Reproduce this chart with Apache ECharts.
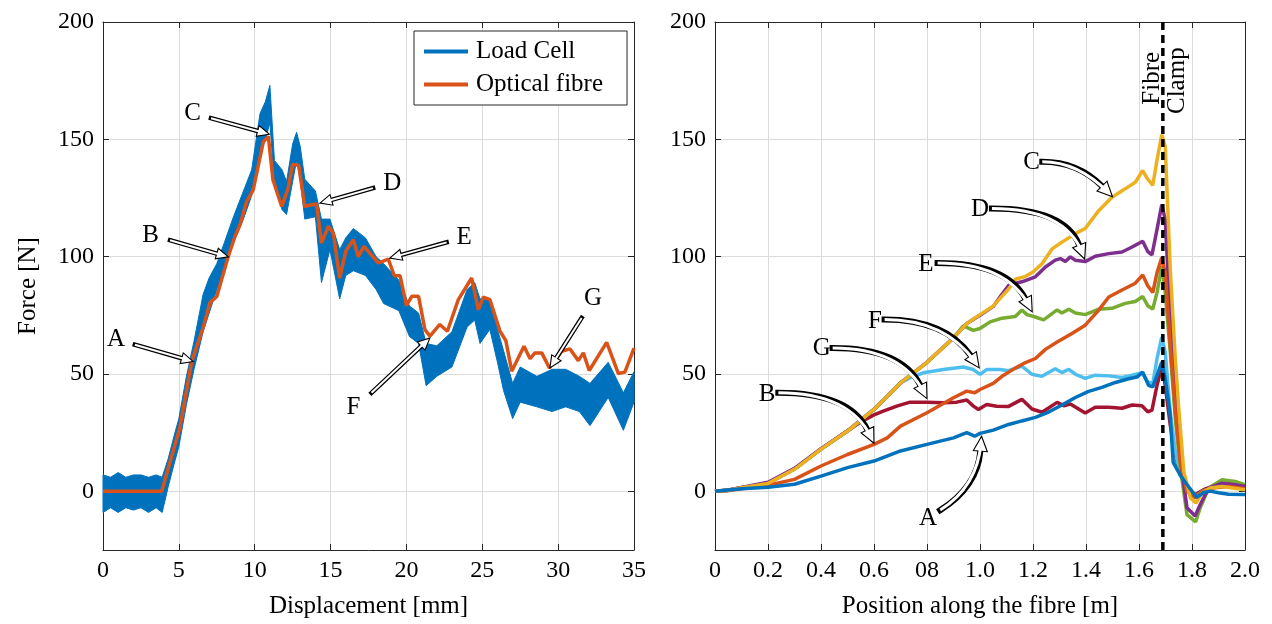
<!DOCTYPE html>
<html><head><meta charset="utf-8">
<script src="https://cdn.jsdelivr.net/npm/echarts@6/dist/echarts.min.js"></script>
<style>html,body{margin:0;padding:0;background:#fff}#c{width:1272px;height:624px}</style>
</head><body><div id="c"></div>
<script>
// ---------- Left panel data ----------
const loadX    = [0,0.5,1,1.5,2,2.5,3,3.5,3.9,4.3,4.7,5.0,5.5,6.0,6.6,7.0,7.5,8.0,8.6,9.2,9.8,10.35,10.7,11.0,11.3,11.8,12.1,12.5,12.76,13.0,13.3,14.0,14.4,14.96,15.6,16.0,16.5,17.3,18.0,18.5,19.5,20.2,20.8,21.3,22.0,23.0,24.0,24.5,24.85,25.5,26.0,26.4,27.0,27.5,28.6,29.6,30.5,31.4,32.1,33.3,34.3,35];
const loadLow  = [-9,-7,-9,-7,-8,-7,-9,-7,-9,2,12,19,37,52,68,76,86,95,106,115,126,144,150,157,131,120,118,132,141,133,116,117,89,103,82,92,94,92,86,80,77,66,63,45,49,53,70,73,63,69,55,43,31,38,36,34,36,34,28,40,26,38];
const loadHigh = [7,6,8,6,7,7,6,7,6,14,24,31,49,64,84,91,97,106,117,127,137,161,166,173,141,137,132,148,153,147,133,128,116,116,103,108,112,108,100,97,90,79,76,63,62,68,86,89,82,82,69,60,46,53,49,52,52,49,46,55,42,51];
const fibreX = [0,3.87,5.07,5.85,6.6,7.05,7.5,8.25,8.7,9.03,9.47,9.9,10.57,10.9,11.2,11.78,12.2,12.5,12.9,13.3,13.65,14.08,14.4,14.85,15.18,15.6,16.0,16.5,16.83,17.2,18.15,18.8,19.2,19.58,20.0,20.35,20.8,21.22,21.55,22.2,22.7,23.42,24.3,24.74,25.07,25.5,26.17,26.55,26.94,27.75,28.15,28.47,28.92,29.42,30.23,30.78,31.33,31.66,32.05,33.2,33.97,34.4,35];
const fibreY = [0,0,27.2,55.4,69.8,80.4,83,100,108.6,113.6,123.5,128.5,149,151.2,132.8,121.4,129,139.4,138.9,121.4,122,122.4,105.8,112.9,110,90.9,102.3,107.2,100,104.4,97.3,99,91.9,91.9,79.1,83.1,83.1,68.9,66.1,71.1,68.2,81.7,90.9,77.4,82.8,81.7,68.2,64.3,51.2,61.8,56.5,59,59,52.6,59.7,60.7,55.7,59,51.5,63.5,50.2,50.8,61];

// ---------- Right panel data ([position, force]) ----------
const curveA = [[0,0],[0.05,0.6],[0.1,1.1],[0.2,1.7],[0.3,3],[0.4,6.5],[0.5,10.1],[0.6,12.9],[0.7,17.2],[0.8,20],[0.9,22.8],[0.95,25],[0.98,23.5],[1.0,24.7],[1.05,26.1],[1.108,28.5],[1.158,30],[1.209,31.5],[1.259,33.8],[1.309,36.8],[1.36,40],[1.41,42.6],[1.46,44.3],[1.511,46.4],[1.561,48],[1.592,48.7],[1.614,50.8],[1.636,45.2],[1.652,44.5],[1.668,49.4],[1.686,55.1],[1.699,48],[1.717,33.5],[1.729,12.3],[1.754,7.2],[1.78,3],[1.818,-2.6],[1.844,-0.5],[1.869,0.1],[1.9,-0.6],[1.938,-1.2],[2.0,-1.3]];
const curveB = [[0,0],[0.05,0.3],[0.1,1.1],[0.2,2.6],[0.3,5.1],[0.4,10.8],[0.5,15.7],[0.6,20],[0.65,22.8],[0.7,27.8],[0.8,33.5],[0.9,39.9],[0.95,42.7],[0.98,42],[1.0,43.4],[1.05,46],[1.083,49],[1.133,52.5],[1.165,54.5],[1.209,56.6],[1.247,60.5],[1.291,63.6],[1.347,67.3],[1.397,70.8],[1.448,77.2],[1.486,82.8],[1.536,85.8],[1.586,88.7],[1.614,92.2],[1.633,87.6],[1.652,84.7],[1.668,93.2],[1.686,99.6],[1.699,93.2],[1.718,62.1],[1.737,33.9],[1.756,12.7],[1.781,0],[1.812,-2.8],[1.838,0],[1.876,1.4],[1.938,2.1],[2.0,1.1]];
const curveC = [[0,0],[0.05,0.5],[0.1,1.5],[0.2,3.4],[0.3,9.4],[0.4,18],[0.5,25.7],[0.6,34.9],[0.7,46.2],[0.8,55],[0.9,65.4],[0.95,71.5],[1.0,75.3],[1.05,79],[1.108,86.2],[1.135,90.5],[1.17,91.5],[1.2,93.5],[1.234,97],[1.272,103.3],[1.309,106.2],[1.36,109.8],[1.397,112],[1.448,119.6],[1.498,125.3],[1.548,128.9],[1.586,131.7],[1.614,136.7],[1.632,133.2],[1.652,130.4],[1.668,141.2],[1.686,152],[1.699,146.9],[1.718,94.6],[1.737,56.5],[1.75,35.3],[1.769,8.5],[1.794,-2.8],[1.815,-5],[1.838,-0.7],[1.869,1.4],[1.913,2.1],[2.0,0.7]];
const curveD = [[0,0],[0.05,0.6],[0.1,1.7],[0.2,3.9],[0.3,9.8],[0.4,18.2],[0.5,25.8],[0.6,34.9],[0.7,46.2],[0.8,55],[0.9,65.4],[0.95,71.5],[1.0,75],[1.05,78.8],[1.08,83.5],[1.11,88],[1.158,89.3],[1.209,91.4],[1.247,95.6],[1.284,98.5],[1.303,99.2],[1.322,97.9],[1.341,99.9],[1.36,98.5],[1.397,97.9],[1.435,100.2],[1.486,101.3],[1.536,102],[1.574,104.1],[1.614,106.6],[1.633,102.2],[1.649,100.8],[1.668,111.6],[1.686,122.2],[1.699,115.8],[1.718,73.4],[1.737,41],[1.756,14.1],[1.781,-7],[1.812,-10.5],[1.831,-5.6],[1.863,1.4],[1.913,3.5],[1.963,2.8],[2.0,2.1]];
const curveE = [[0,0],[0.05,0.5],[0.1,1.5],[0.2,3.5],[0.3,9.5],[0.4,18],[0.5,25.7],[0.6,34.9],[0.7,46.2],[0.8,55],[0.9,65.4],[0.937,70.5],[0.975,68.6],[1.0,69.4],[1.038,72.2],[1.083,73.8],[1.133,74.5],[1.158,77.3],[1.177,75.3],[1.2,74.6],[1.24,73.1],[1.291,77.3],[1.309,76],[1.335,77.6],[1.36,76],[1.397,75.3],[1.448,77.6],[1.498,78],[1.548,80.1],[1.586,80.9],[1.614,83],[1.633,79.1],[1.652,77.7],[1.668,84.7],[1.686,96],[1.699,84.7],[1.718,59.3],[1.737,31],[1.756,9.9],[1.781,-9.9],[1.814,-13],[1.831,-7],[1.863,1.4],[1.913,4.9],[1.963,4.2],[2.0,2.8]];
const curveF = [[0,0],[0.05,0.5],[0.1,1.5],[0.2,3.5],[0.3,9.5],[0.4,18],[0.5,25.7],[0.6,34.9],[0.7,46.2],[0.736,48.4],[0.786,50.5],[0.862,51.9],[0.937,53],[0.975,51.9],[1.0,49.8],[1.025,51.9],[1.075,51.9],[1.108,51.4],[1.158,53.4],[1.196,49.9],[1.234,49],[1.284,52.2],[1.309,50.6],[1.335,52],[1.36,49.9],[1.397,48.1],[1.435,49.5],[1.486,49.2],[1.536,48.5],[1.574,49.5],[1.611,50.6],[1.633,46.6],[1.652,45.9],[1.668,56.5],[1.686,65.7],[1.699,59.3],[1.718,33.9],[1.737,16.9],[1.756,7.1],[1.788,-0.7],[1.813,-2.1],[1.844,0.3],[1.876,1.4],[1.925,2.8],[2.0,1.4]];
const curveG = [[0,0],[0.05,0.5],[0.1,1.5],[0.2,3.5],[0.3,9.5],[0.4,18],[0.5,25.7],[0.55,29.6],[0.6,32.6],[0.635,34.2],[0.686,36.3],[0.736,38],[0.799,38],[0.862,37.7],[0.912,38],[0.95,38.9],[0.975,36.3],[0.994,34.9],[1.025,37],[1.063,36.3],[1.108,36.2],[1.158,39.2],[1.196,35.1],[1.234,33.7],[1.291,37.9],[1.316,36.5],[1.341,37.2],[1.372,35.1],[1.397,33.4],[1.435,35.8],[1.486,35.8],[1.536,35.4],[1.574,36.8],[1.611,36.5],[1.633,33.9],[1.649,34.6],[1.668,45.2],[1.686,53],[1.699,45.2],[1.718,28.2],[1.737,15.5],[1.756,7.1],[1.788,0],[1.813,-1.4],[1.844,0.7],[1.876,2.1],[1.925,3.5],[2.0,2.1]];
const rightXTickLabels = ['0','0.2','0.4','0.6','08','1.0','1.2','1.4','1.6','1.8','2.0'];
const clampX = 1.69;
const clampTexts = ['Fibre','Clamp'];
const clampTextPos = [[1.651,176],[1.745,175]];

// ---------- Annotations ----------
const leftLabels = ['A','B','C','D','E','F','G'];
const leftLabelPos = [[0.86,64.7],[3.14,109],[5.91,161],[19.07,131.3],[23.8,108],[16.5,35.6],[32.3,82.4]];
// [tailX, tailY, tipX, tipY]
const leftArrows = [[2.1,62.5,5.95,55.3],[4.42,107,8.26,99.9],[7.12,159,10.96,152.2],[17.8,129.2,14.3,122.8],[22.65,106.1,18.9,99.4],[17.7,42,21.55,65.4],[31.55,73.9,29.46,52.6]];
const rightLabels = ['A','B','C','D','E','F','G'];
const rightLabelPos = [[0.804,-11.5],[0.197,41.3],[1.195,140],[1.0,120],[0.796,96.7],[0.604,72.5],[0.403,60.7]];
// [tailX, tailY, ctrlX, ctrlY, tipX, tipY]
const rightArrows = [[0.85,-8,0.99,2,1.006,23.5],[0.239,42,0.507,42,0.6,20.5],[1.235,140.5,1.37,140.5,1.5,125.5],[1.045,120.5,1.32,120.5,1.395,99],[0.84,97.3,1.1,97.3,1.197,76.5],[0.64,73.2,0.87,73.2,0.997,52.6],[0.444,61.1,0.704,61.1,0.8,39.5]];

const FONT = '"Liberation Serif","Times New Roman",serif';
const AX = '#262626';
const GRIDC = '#dcdcdc';
const COL = {A:'#0072BD',B:'#D95319',C:'#EDB120',D:'#7E2F8E',E:'#77AC30',F:'#4DBEEE',G:'#A2142F'};

function arrowRenderer(labels, outer, inner, headLen, headHalf, labelPos) {
  return function (params, api) {
    const i = params.dataIndex;
    const curved = !isNaN(api.value(4));
    const t = api.coord([api.value(0), api.value(1)]);
    let p, c;
    if (curved) {
      c = api.coord([api.value(2), api.value(3)]);
      p = api.coord([api.value(4), api.value(5)]);
    } else {
      p = api.coord([api.value(2), api.value(3)]);
      c = [(t[0] + p[0]) / 2, (t[1] + p[1]) / 2];
    }
    let dx = p[0] - c[0], dy = p[1] - c[1];
    const L = Math.hypot(dx, dy) || 1; dx /= L; dy /= L;
    const bx = p[0] - dx * headLen, by = p[1] - dy * headLen;
    const ix = p[0] - dx * headLen * 0.45, iy = p[1] - dy * headLen * 0.45;
    const nx = -dy, ny = dx;
    const lp = api.coord(labelPos[i]);
    const outerShape = {x1: t[0], y1: t[1], x2: bx, y2: by, cpx1: c[0], cpy1: c[1]};
    const innerShape = {x1: t[0], y1: t[1], x2: ix, y2: iy, cpx1: c[0], cpy1: c[1]};
    return {
      type: 'group',
      children: [
        {type: 'bezierCurve', shape: outerShape, style: {stroke: '#000', lineWidth: outer, fill: 'none', lineCap: 'square'}},
        {type: 'polygon', shape: {points: [[p[0], p[1]], [bx + nx * headHalf, by + ny * headHalf], [bx - nx * headHalf, by - ny * headHalf]]}, style: {fill: '#fff', stroke: '#000', lineWidth: 1.1}},
        {type: 'bezierCurve', shape: innerShape, style: {stroke: '#fff', lineWidth: inner, fill: 'none', lineCap: 'butt'}},
        {type: 'text', style: {text: labels[i], x: lp[0], y: lp[1], fontSize: 25, fontFamily: FONT, fill: '#000', align: 'center', verticalAlign: 'middle'}}
      ]
    };
  };
}

// Load-cell noise band: polygon between the upper and lower envelopes, through the axis scales
function bandRenderer(params, api) {
  if (params.dataIndex !== 0) return null;
  const pts = [];
  for (let i = 0; i < loadX.length; i++) pts.push(api.coord([loadX[i], loadHigh[i]]));
  for (let i = loadX.length - 1; i >= 0; i--) pts.push(api.coord([loadX[i], loadLow[i]]));
  return {type: 'polygon', shape: {points: pts},
    style: {fill: COL.A, stroke: COL.A, lineWidth: 1, lineJoin: 'miter'}};
}

function clampTextRenderer(params, api) {
  const i = params.dataIndex;
  const pt = api.coord([api.value(0), api.value(1)]);
  return {type: 'text', x: pt[0], y: pt[1], rotation: Math.PI / 2,
    style: {text: clampTexts[i], x: 0, y: 0, fontSize: 25, fontFamily: FONT, fill: '#000', align: 'center', verticalAlign: 'middle'}};
}

function xAxisMain(grid, min, max, interval, name, formatter) {
  return {type: 'value', gridIndex: grid, min, max, interval, position: 'bottom',
    name, nameLocation: 'middle', nameGap: 44,
    nameTextStyle: {fontSize: 25, fontFamily: FONT, color: '#000'},
    axisLine: {show: true, onZero: false, lineStyle: {color: AX, width: 1}},
    axisTick: {show: true, inside: true, length: 6, lineStyle: {color: AX}},
    axisLabel: {fontSize: 24, fontFamily: FONT, color: '#000', margin: 9, formatter},
    splitLine: {show: true, lineStyle: {color: GRIDC, width: 1}}};
}
function xAxisTop(grid, min, max, interval) {
  return {type: 'value', gridIndex: grid, min, max, interval, position: 'top',
    axisLine: {show: true, onZero: false, lineStyle: {color: AX, width: 1}},
    axisTick: {show: true, inside: true, length: 6, lineStyle: {color: AX}},
    axisLabel: {show: false}, splitLine: {show: false}};
}
function yAxisMain(grid, name) {
  return {type: 'value', gridIndex: grid, min: -25, max: 200, position: 'left',
    name, nameLocation: 'middle', nameGap: 62,
    nameTextStyle: {fontSize: 25, fontFamily: FONT, color: '#000'},
    axisLine: {show: true, onZero: false, lineStyle: {color: AX, width: 1}},
    axisTick: {show: true, inside: true, length: 6, lineStyle: {color: AX}},
    axisLabel: {fontSize: 24, fontFamily: FONT, color: '#000', margin: 9, showMinLabel: false},
    splitLine: {show: true, lineStyle: {color: GRIDC, width: 1}}};
}
function yAxisRight(grid) {
  return {type: 'value', gridIndex: grid, min: -25, max: 200, position: 'right',
    axisLine: {show: true, onZero: false, lineStyle: {color: AX, width: 1}},
    axisTick: {show: true, inside: true, length: 6, lineStyle: {color: AX}},
    axisLabel: {show: false}, splitLine: {show: false}};
}

function rightLine(name, data, color) {
  return {name, type: 'line', xAxisIndex: 1, yAxisIndex: 1, data, showSymbol: false, symbol: 'none',
    lineStyle: {color, width: 3.5}, itemStyle: {color}, silent: true};
}

const option = {
  animation: false,
  backgroundColor: '#fff',
  textStyle: {fontFamily: FONT},
  grid: [
    {left: 103, top: 22, width: 531, height: 529},
    {left: 715, top: 22, width: 530, height: 529}
  ],
  xAxis: [
    xAxisMain(0, 0, 35, 5, 'Displacement [mm]'),
    xAxisMain(1, 0, 2, 0.2, 'Position along the fibre [m]', v => rightXTickLabels[Math.round(v / 0.2)]),
    xAxisTop(0, 0, 35, 5),
    xAxisTop(1, 0, 2, 0.2)
  ],
  yAxis: [
    yAxisMain(0, 'Force [N]'),
    yAxisMain(1, ''),
    yAxisRight(0),
    yAxisRight(1)
  ],
  legend: {
    data: ['Load Cell', 'Optical fibre'], orient: 'vertical', left: 414, top: 31,
    padding: [8, 24, 8, 10], itemGap: 8, itemWidth: 44, itemHeight: 4, icon: 'rect',
    borderColor: AX, borderWidth: 1, backgroundColor: '#fff', selectedMode: false,
    textStyle: {fontSize: 25, fontFamily: FONT, color: '#000', padding: [0, 0, 0, 3]}
  },
  series: [
    {name: 'Load Cell', type: 'custom', xAxisIndex: 0, yAxisIndex: 0,
      data: loadX.map((x, i) => [x, loadLow[i], loadHigh[i]]),
      renderItem: bandRenderer, itemStyle: {color: COL.A}, silent: true, z: 2},
    {name: 'Optical fibre', type: 'line', xAxisIndex: 0, yAxisIndex: 0,
      data: fibreX.map((x, i) => [x, fibreY[i]]), symbol: 'none', showSymbol: false,
      lineStyle: {color: COL.B, width: 3.5}, itemStyle: {color: COL.B}, silent: true, z: 3},
    {name: 'leftAnn', type: 'custom', xAxisIndex: 0, yAxisIndex: 0, data: leftArrows,
      renderItem: arrowRenderer(leftLabels, 4.5, 2, 12, 5.5, leftLabelPos), silent: true, z: 5},

    rightLine('G', curveG, COL.G),
    rightLine('F', curveF, COL.F),
    rightLine('E', curveE, COL.E),
    rightLine('D', curveD, COL.D),
    rightLine('B', curveB, COL.B),
    rightLine('C', curveC, COL.C),
    rightLine('A', curveA, COL.A),
    {name: 'clamp', type: 'line', xAxisIndex: 1, yAxisIndex: 1, data: [[clampX, -25], [clampX, 200]],
      symbol: 'none', showSymbol: false, lineStyle: {color: '#000', width: 3.5, type: [8, 5]}, silent: true, z: 4},
    {name: 'clampText', type: 'custom', xAxisIndex: 1, yAxisIndex: 1, data: clampTextPos,
      renderItem: clampTextRenderer, silent: true, z: 5},
    {name: 'rightAnn', type: 'custom', xAxisIndex: 1, yAxisIndex: 1, data: rightArrows,
      renderItem: arrowRenderer(rightLabels, 6, 3, 15, 7, rightLabelPos), silent: true, z: 5}
  ]
};
const chart = echarts.init(document.getElementById('c'), null, {renderer: 'canvas'});
chart.setOption(option);
</script></body></html>
